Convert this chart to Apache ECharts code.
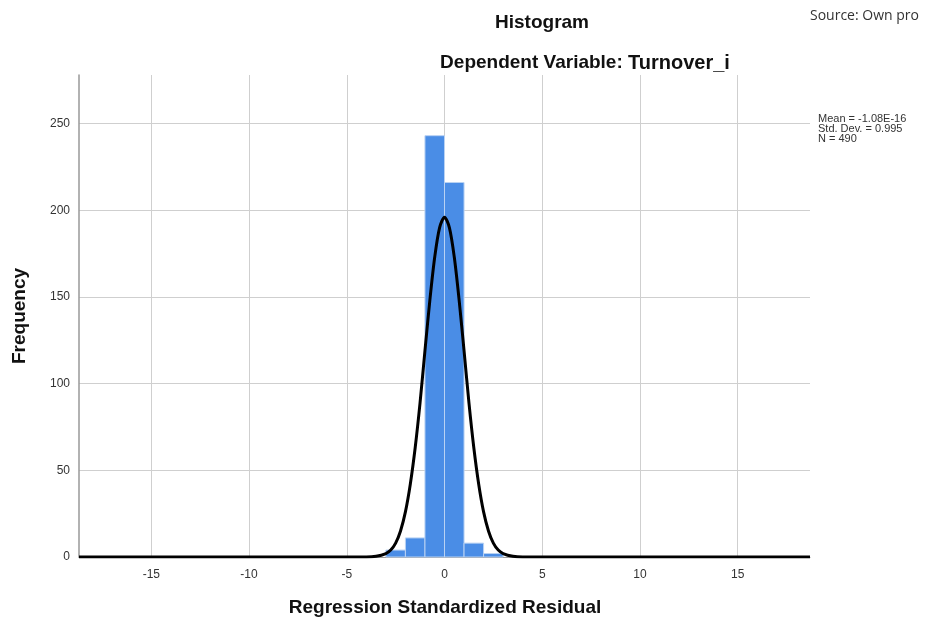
<!DOCTYPE html>
<html>
<head>
<meta charset="utf-8">
<script src="https://cdn.jsdelivr.net/npm/echarts@6/dist/echarts.min.js"></script>
<style>
  html, body { margin: 0; background: #fff; }
  #chart { width: 933px; height: 624px; }
</style>
</head>
<body>
<div id="chart"></div>
<script>
// histogram bins (regression standardized residual) and counts
const binStart = [-3, -2, -1, 0, 1, 2];
const binEnd = [-2, -1, 0, 1, 2, 3];
const binCount = [4, 11, 243, 216, 8, 2];

// normal curve
const curveX = [-18.7, -4, -3.5, -3, -2.75, -2.5, -2.25, -2, -1.75, -1.5, -1.25, -1, -0.75, -0.5, -0.25, 0,
                0.25, 0.5, 0.75, 1, 1.25, 1.5, 1.75, 2, 2.25, 2.5, 2.75, 3, 3.5, 4, 18.7];
const curveY = [0, 0, 0.4, 2, 4, 8, 15, 26, 42, 63, 89, 119, 148, 173, 190, 196,
                190, 173, 148, 119, 89, 63, 42, 26, 15, 8, 4, 2, 0.4, 0, 0];

const xTicks = [-15, -10, -5, 0, 5, 10, 15];
const yTicks = [0, 50, 100, 150, 200, 250];
const statsLines = ['Mean = -1.08E-16', 'Std. Dev. = 0.995', 'N = 490'];

const chart = echarts.init(document.getElementById('chart'));
const font = '"Liberation Sans", Arial, sans-serif';

chart.setOption({
  animation: false,
  backgroundColor: '#fff',
  title: [
    {
      text: 'Histogram',
      left: 537, top: 8, textAlign: 'center',
      textStyle: { fontFamily: font, fontSize: 19, fontWeight: 'bold', color: '#111' }
    },
    {
      text: '{a|Dependent Variable: }{b|Turnover_i}',
      left: 580, top: 48, textAlign: 'center',
      textStyle: {
        rich: {
          a: { fontFamily: font, fontSize: 19, fontWeight: 'bold', color: '#111' },
          b: { fontFamily: font, fontSize: 20, fontWeight: 'bold', color: '#111' }
        }
      }
    },
    {
      text: 'Source: Own pro',
      left: 805, top: 4,
      textStyle: { fontFamily: '"Open Sans", sans-serif', fontSize: 14, fontWeight: 'normal', color: '#333' }
    }
  ],
  graphic: [
    {
      type: 'text', x: 20, y: 316, rotation: Math.PI / 2,
      style: { text: 'Frequency', fontFamily: font, fontSize: 19, fontWeight: 'bold', fill: '#111',
               textAlign: 'center', textVerticalAlign: 'middle' }
    },
    {
      type: 'text', x: 445, y: 608,
      style: { text: 'Regression Standardized Residual', fontFamily: font, fontSize: 19, fontWeight: 'bold',
               fill: '#111', textAlign: 'center', textVerticalAlign: 'middle' }
    },
    {
      type: 'text', x: 818, y: 114,
      style: { text: statsLines.join('\n'), fontFamily: font, fontSize: 11, lineHeight: 10, fill: '#333' }
    }
  ],
  grid: { left: 79, right: 123, top: 75, bottom: 67 },
  xAxis: {
    type: 'value',
    min: -18.7, max: 18.7,
    axisLine: { show: true, onZero: false, lineStyle: { color: '#999', width: 1 } },
    axisTick: { show: false, customValues: xTicks },
    axisLabel: { customValues: xTicks, color: '#333', fontFamily: font, fontSize: 12, margin: 12 },
    splitLine: { show: true, lineStyle: { color: '#cfcfcf', width: 1 } }
  },
  yAxis: {
    type: 'value',
    min: 0, max: 278,
    axisLine: { show: true, onZero: false, lineStyle: { color: '#999', width: 1.5 } },
    axisTick: { show: false, customValues: yTicks },
    axisLabel: { customValues: yTicks, color: '#333', fontFamily: font, fontSize: 12, margin: 9 },
    splitLine: { show: true, lineStyle: { color: '#cfcfcf', width: 1 } }
  },
  series: [
    {
      type: 'custom',
      data: binStart.map((s, i) => [s, binEnd[i], binCount[i]]),
      encode: { x: [0, 1], y: 2 },
      renderItem: (params, api) => {
        const p0 = api.coord([api.value(0), api.value(2)]);
        const p1 = api.coord([api.value(1), 0]);
        return {
          type: 'rect',
          shape: { x: p0[0], y: p0[1], width: p1[0] - p0[0], height: p1[1] - p0[1] },
          style: { fill: '#4a8de6', stroke: '#b9d2f3', lineWidth: 1 }
        };
      },
      z: 2
    },
    {
      type: 'line',
      data: curveX.map((x, i) => [x, curveY[i]]),
      smooth: 0.3,
      showSymbol: false,
      lineStyle: { color: '#000', width: 3 },
      z: 3
    }
  ]
});
</script>
</body>
</html>
